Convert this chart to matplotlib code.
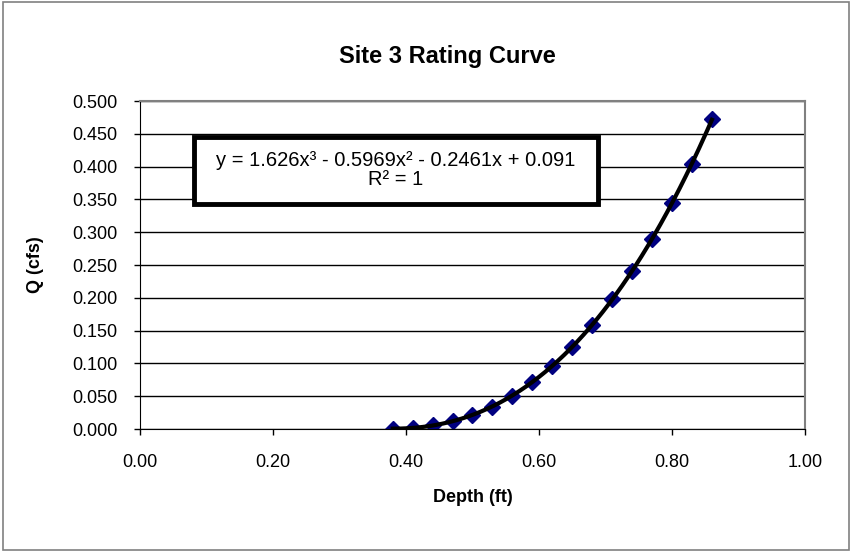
import matplotlib.pyplot as plt
import numpy as np
from matplotlib.patches import Rectangle

plt.rcParams['font.family'] = ['Liberation Sans', 'DejaVu Sans']

# Depth (ft) and discharge Q (cfs)
depth = [0.38, 0.41, 0.44, 0.47, 0.50, 0.53, 0.56, 0.59, 0.62,
         0.65, 0.68, 0.71, 0.74, 0.77, 0.80, 0.83, 0.86]
q = [0.000, 0.002, 0.006, 0.012, 0.021, 0.034, 0.051, 0.072, 0.096,
     0.125, 0.159, 0.198, 0.241, 0.290, 0.344, 0.404, 0.472]

eq_text = "y = 1.626x³ - 0.5969x² - 0.2461x + 0.091\nR² = 1"

fig = plt.figure(figsize=(8.54, 5.52), dpi=100)
ax = fig.add_axes([140 / 854, 1 - 429 / 552, 665 / 854, 328 / 552])

# Polynomial trendline (3rd order) through the points
coef = np.polyfit(depth, q, 3)
xs = np.linspace(min(depth), max(depth), 200)
ax.plot(xs, np.polyval(coef, xs), color='black', lw=3, zorder=3)
ax.plot(depth, q, linestyle='none', marker='D', ms=8, color='#000080',
        markeredgecolor='#000080', zorder=2)

ax.set_xlim(0, 1)
ax.set_ylim(0, 0.5)
ax.set_xticks(np.arange(0, 1.01, 0.2))
ax.set_yticks(np.arange(0, 0.501, 0.05))
ax.xaxis.set_major_formatter(plt.FormatStrFormatter('%.2f'))
ax.yaxis.set_major_formatter(plt.FormatStrFormatter('%.3f'))
ax.tick_params(direction='out', length=4, width=1, labelsize=13, color='black')
ax.tick_params(axis='y', pad=12)
ax.tick_params(axis='x', pad=14)
ax.grid(axis='y', color='black', lw=1)
ax.set_axisbelow(True)

for side in ['top', 'right']:
    ax.spines[side].set_color('#808080')
    ax.spines[side].set_linewidth(1.5)
for side in ['left', 'bottom']:
    ax.spines[side].set_color('black')

ax.set_xlabel("Depth (ft)", fontsize=13, fontweight='bold')
ax.set_ylabel("Q (cfs)", fontsize=13, fontweight='bold')
ax.xaxis.set_label_coords(0.5, (429 - 489) / 328)
ax.yaxis.set_label_coords((44 - 140) / 665, 0.5)
fig.text(447 / 854, 1 - 57 / 552, "Site 3 Rating Curve", ha='center', va='center',
         fontsize=17, fontweight='bold')

# Trendline equation box
ax.add_patch(Rectangle((194 / 854, 1 - 204 / 552), 404 / 854, 67 / 552,
                       transform=fig.transFigure, facecolor='white',
                       edgecolor='black', lw=3.5, zorder=5))
fig.text(396 / 854, 1 - 170 / 552, eq_text, ha='center', va='center',
         fontsize=14.5, linespacing=1.05, zorder=6)

# Chart area border
fig.patches.append(Rectangle((3 / 854, 2 / 552), 846 / 854, 548 / 552,
                             transform=fig.transFigure, fill=False,
                             edgecolor='#808080', lw=1.2))

fig.savefig('out.png', dpi=100)
